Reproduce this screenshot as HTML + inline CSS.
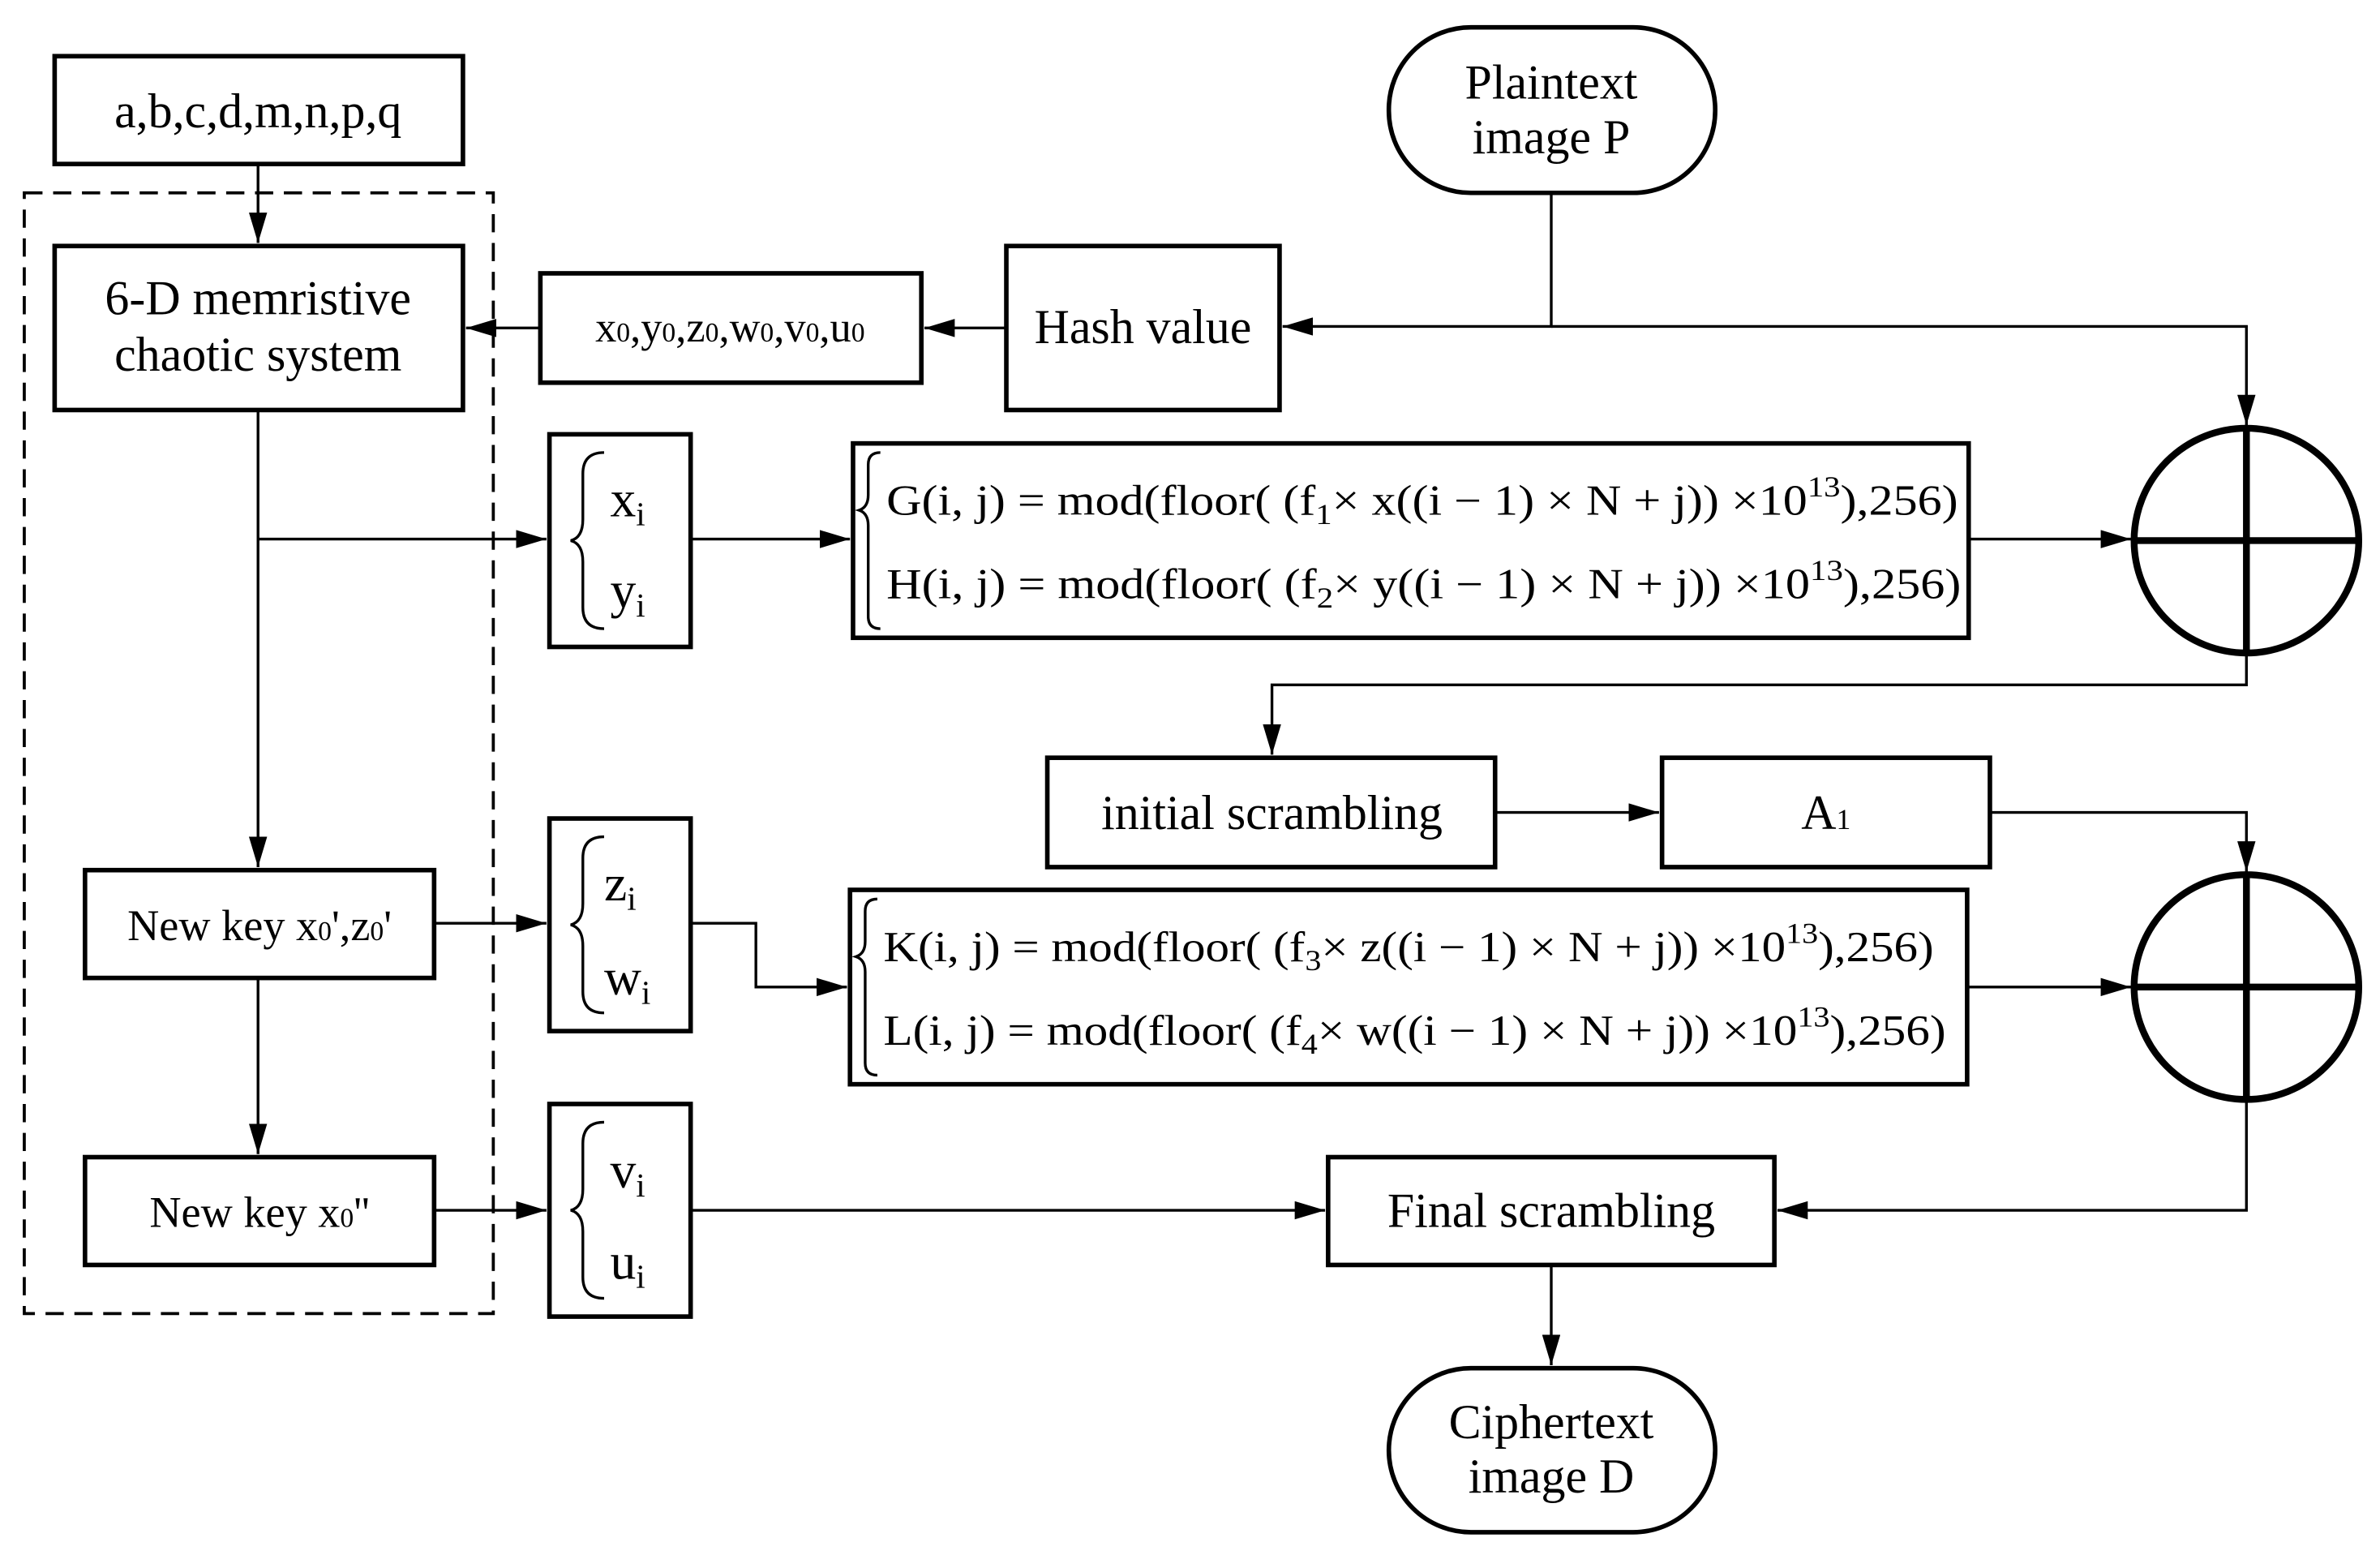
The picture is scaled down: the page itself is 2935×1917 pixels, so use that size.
<!DOCTYPE html>
<html><head><meta charset="utf-8"><style>html,body{margin:0;padding:0;background:#fff}svg{display:block}</style></head>
<body>
<svg width="2935" height="1917" viewBox="0 0 1568 1024" preserveAspectRatio="none" xmlns="http://www.w3.org/2000/svg" font-family="'Liberation Serif', serif" font-size="32">
<defs>
<marker id="b" viewBox="0 0 20 12" markerWidth="20" markerHeight="12" refX="20" refY="6" orient="auto" markerUnits="userSpaceOnUse"><path d="M0,0L20,6L0,12z" fill="#000"/></marker></defs>
<g fill="none" stroke="#000" stroke-width="3">
<rect x="36" y="37" width="269" height="71"/>
<rect x="16" y="127" width="309" height="738" stroke-width="2" stroke-dasharray="12,7"/>
<rect x="36" y="162" width="269" height="108"/>
<rect x="356" y="180" width="251" height="72"/>
<rect x="663" y="162" width="180" height="108"/>
<rect x="915" y="18" width="215" height="109" rx="54"/>
<rect x="362" y="286" width="93" height="140"/>
<rect x="562" y="292" width="735" height="128"/>
<rect x="690" y="499" width="295" height="72"/>
<rect x="1095" y="499" width="216" height="72"/>
<rect x="56" y="573" width="230" height="71"/>
<rect x="362" y="539" width="93" height="140"/>
<rect x="560" y="586" width="736" height="128"/>
<rect x="56" y="762" width="230" height="71"/>
<rect x="362" y="727" width="93" height="140"/>
<rect x="875" y="762" width="294" height="71"/>
<rect x="915" y="901" width="215" height="108" rx="54"/>
<g stroke-width="4.5"><circle cx="1480" cy="356" r="74"/><path d="M1406,356H1554M1480,282V430"/><circle cx="1480" cy="650" r="74"/><path d="M1406,650H1554M1480,576V724"/></g>
</g>
<g fill="none" stroke="#000" stroke-width="1.8">
<path d="M170,108V160" marker-end="url(#b)"/>
<path d="M663,216H609" marker-end="url(#b)"/>
<path d="M356,216H307" marker-end="url(#b)"/>
<path d="M1022,127V215H845" marker-end="url(#b)"/>
<path d="M1022,215H1480V280" marker-end="url(#b)"/>
<path d="M170,270V571" marker-end="url(#b)"/>
<path d="M170,355H360" marker-end="url(#b)"/>
<path d="M455,355H560" marker-end="url(#b)"/>
<path d="M1297,355H1404" marker-end="url(#b)"/>
<path d="M1480,430V451H838V497" marker-end="url(#b)"/>
<path d="M985,535H1093" marker-end="url(#b)"/>
<path d="M1311,535H1480V574" marker-end="url(#b)"/>
<path d="M286,608H360" marker-end="url(#b)"/>
<path d="M455,608H498V650H558" marker-end="url(#b)"/>
<path d="M1296,650H1404" marker-end="url(#b)"/>
<path d="M1480,724V797H1171" marker-end="url(#b)"/>
<path d="M170,644V760" marker-end="url(#b)"/>
<path d="M286,797H360" marker-end="url(#b)"/>
<path d="M455,797H873" marker-end="url(#b)"/>
<path d="M1022,833V899" marker-end="url(#b)"/>
<path d="M398,298q-14,0 -14,14v30q0,12 -8,14q8,2 8,14v30q0,14 14,14"/>
<path d="M398,551q-14,0 -14,14v30q0,12 -8,14q8,2 8,14v30q0,14 14,14"/>
<path d="M398,739q-14,0 -14,14v30q0,12 -8,14q8,2 8,14v30q0,14 14,14"/>
<path d="M580,298q-8,0 -8,8v20q0,8 -6,10q6,2 6,10v60q0,8 8,8"/>
<path d="M578,592q-8,0 -8,8v20q0,8 -6,10q6,2 6,10v60q0,8 8,8"/>
</g>
<g text-anchor="middle" fill="#000">
<text x="170" y="84">a,b,c,d,m,n,p,q</text>
<text x="170" y="207">6-D memristive</text>
<text x="170" y="244">chaotic system</text>
<text x="481" y="225" font-size="28">x<tspan font-size="18">0</tspan>,y<tspan font-size="18">0</tspan>,z<tspan font-size="18">0</tspan>,w<tspan font-size="18">0</tspan>,v<tspan font-size="18">0</tspan>,u<tspan font-size="18">0</tspan></text>
<text x="753" y="226">Hash value</text>
<text x="1022" y="65">Plaintext</text>
<text x="1022" y="101">image P</text>
<text x="838" y="546">initial scrambling</text>
<text x="1203" y="546">A<tspan font-size="19">1</tspan></text>
<text x="171" y="619" font-size="29">New key x<tspan font-size="18">0</tspan>',z<tspan font-size="18">0</tspan>'</text>
<text x="171" y="808" font-size="29">New key x<tspan font-size="18">0</tspan>''</text>
<text x="1022" y="808">Final scrambling</text>
<text x="1022" y="947">Ciphertext</text>
<text x="1022" y="983">image D</text>
</g>
<g fill="#000" font-size="34">
<text x="402" y="340">x<tspan font-size="22" dy="6">i</tspan></text>
<text x="402" y="400">y<tspan font-size="22" dy="6">i</tspan></text>
<text x="398" y="593">z<tspan font-size="22" dy="6">i</tspan></text>
<text x="398" y="655">w<tspan font-size="22" dy="6">i</tspan></text>
<text x="402" y="782">v<tspan font-size="22" dy="6">i</tspan></text>
<text x="402" y="842">u<tspan font-size="22" dy="6">i</tspan></text>
</g>
<g fill="#000" font-size="28">
<text x="584" y="339" textLength="706" lengthAdjust="spacingAndGlyphs">G(i,  j) = mod(floor(  (f<tspan font-size="19" dy="6">1</tspan><tspan dy="-6">× x((i − 1) × N + j)) ×10</tspan><tspan font-size="19" dy="-12">13</tspan><tspan dy="12">),256)</tspan></text>
<text x="584" y="394" textLength="708" lengthAdjust="spacingAndGlyphs">H(i,  j) = mod(floor(  (f<tspan font-size="19" dy="6">2</tspan><tspan dy="-6">× y((i − 1) × N + j)) ×10</tspan><tspan font-size="19" dy="-12">13</tspan><tspan dy="12">),256)</tspan></text>
<text x="582" y="633" textLength="692" lengthAdjust="spacingAndGlyphs">K(i,  j) = mod(floor(  (f<tspan font-size="19" dy="6">3</tspan><tspan dy="-6">× z((i − 1) × N + j)) ×10</tspan><tspan font-size="19" dy="-12">13</tspan><tspan dy="12">),256)</tspan></text>
<text x="582" y="688" textLength="700" lengthAdjust="spacingAndGlyphs">L(i,  j) = mod(floor(  (f<tspan font-size="19" dy="6">4</tspan><tspan dy="-6">× w((i − 1) × N + j)) ×10</tspan><tspan font-size="19" dy="-12">13</tspan><tspan dy="12">),256)</tspan></text>
</g>
</svg>
</body></html>
